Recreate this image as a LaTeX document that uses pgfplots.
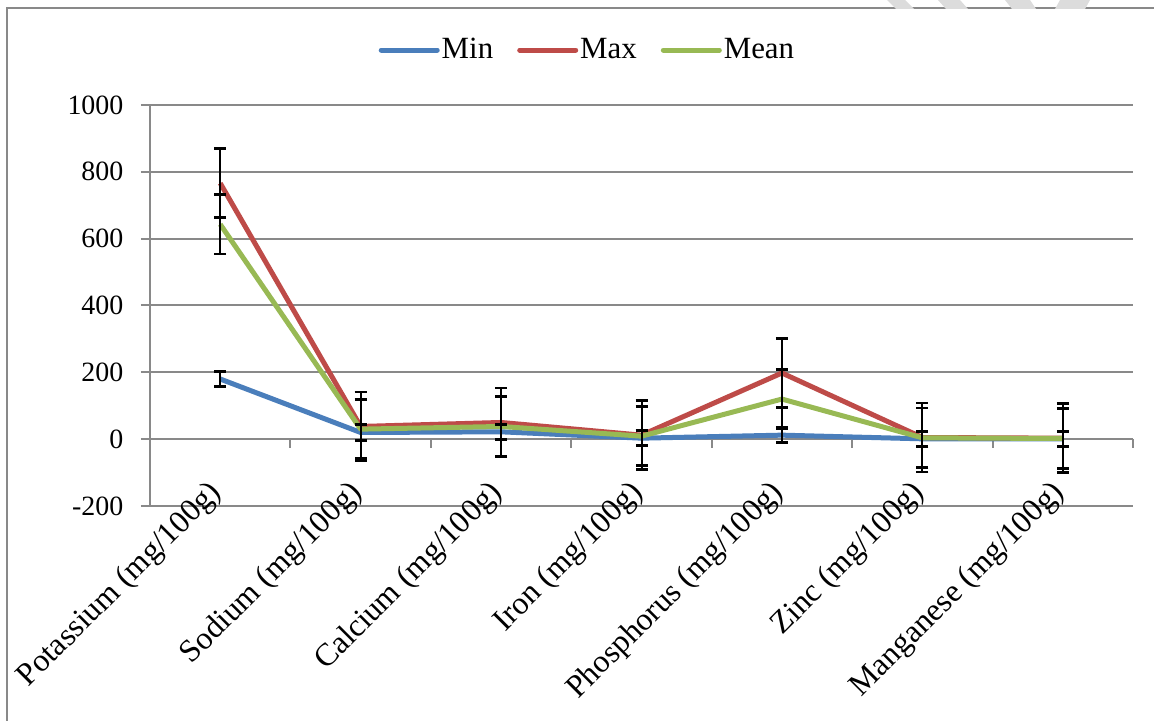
\documentclass[border=0pt]{standalone}
\usepackage{fontspec}
\setmainfont{Liberation Serif}
\usepackage{pgfplots}
\usepackage{pgfplotstable}
\pgfplotsset{compat=1.18}
\definecolor{cmin}{HTML}{4A7EBB}
\definecolor{cmax}{HTML}{BE4B48}
\definecolor{cmean}{HTML}{98B954}
\definecolor{gridgray}{HTML}{898989}
\definecolor{wm}{HTML}{DCDCDC}
\pgfplotstableread{
x min max mean emin emax emean
0 180 766 643 23 103 89
1 20 38 30 23 103 89
2 22 50 38 23 103 89
3 3 12 9 23 103 89
4 12 198 120 23 103 89
5 1 5 4 23 103 89
6 0.5 3 2 23 103 89
}\datatab
\begin{document}
\fontsize{14}{16}\selectfont
\begin{tikzpicture}
\useasboundingbox (0,0) rectangle (577bp,360.5bp);
\draw[gridgray, line width=1bp] (3.5bp,0) -- (3.5bp,356.5bp) -- (577bp,356.5bp);
\fill[wm] (443.5bp,360.5bp) -- (452.5bp,360.5bp) -- (457bp,356bp) -- (448bp,356bp) -- cycle;
\fill[wm] (469bp,360.5bp) -- (480bp,360.5bp) -- (484bp,356bp) -- (473bp,356bp) -- cycle;
\fill[wm] (502.5bp,360.5bp) -- (515bp,360.5bp) -- (518bp,356bp) -- (506bp,356bp) -- cycle;
\fill[wm] (530bp,360.5bp) -- (545bp,360.5bp) -- (542.5bp,356bp) -- (527.5bp,356bp) -- cycle;
\begin{axis}[
  at={(75bp,107.5bp)}, anchor=south west, scale only axis,
  width=491.5bp, height=200.5bp,
  xmin=-0.5, xmax=6.5, ymin=-200, ymax=1000,
  ytick={-200,0,200,400,600,800,1000},
  xtick={0,...,6},
  xticklabels={Potassium (mg/100g),Sodium (mg/100g),Calcium (mg/100g),Iron (mg/100g),Phosphorus (mg/100g),Zinc (mg/100g),Manganese (mg/100g)},
  /pgf/number format/assume math mode=true,
  /pgf/number format/1000 sep={},
  axis lines=left,
  axis line style={gridgray, line width=1bp, -},
  ymajorgrids, grid style={gridgray, line width=1bp},
  xtick style={draw=none},
  ytick style={gridgray, line width=1bp},
  tick align=outside, major tick length=4.5bp,
  yticklabel style={font=\fontsize{14}{16}\selectfont, xshift=-4bp},
  xticklabel style={font=\fontsize{16}{18}\selectfont, rotate=45, anchor=north east, xshift=8.5bp, yshift=18bp, inner sep=0pt},
  legend columns=3,
  legend style={draw=none, fill=none, at={(0.445,1.137)}, anchor=center,
    font=\fontsize{15.5}{17}\selectfont, nodes={inner sep=1bp},
    /tikz/every even column/.append style={column sep=11bp}},
  legend image code/.code={\draw[#1, line width=2.5bp, line cap=round] (0bp,0bp) -- (28bp,0bp);},
  clip=false,
]
\draw[gridgray, line width=1bp] (axis cs:-0.5,0) -- (axis cs:6.5,0);
\pgfplotsinvokeforeach{0.5,1.5,2.5,3.5,4.5,5.5,6.5}{
  \draw[gridgray, line width=1bp] (axis cs:#1,0) -- ++(0pt,-4.5bp);
}
\addplot[cmin, line width=2.5bp, line join=round, mark=none] table[x=x,y=min]{\datatab};
\addlegendentry{Min}
\addplot[cmax, line width=2.5bp, line join=round, mark=none] table[x=x,y=max]{\datatab};
\addlegendentry{Max}
\addplot[cmean, line width=2.5bp, line join=round, mark=none] table[x=x,y=mean]{\datatab};
\addlegendentry{Mean}
\addplot[forget plot, draw=none, mark=none,
  error bars/.cd, y dir=both, y explicit,
  error bar style={draw=black, line width=1bp},
  error mark options={rotate=90, mark size=3bp, line width=1.4bp, draw=black}]
  table[x=x,y=min,y error=emin]{\datatab};
\addplot[forget plot, draw=none, mark=none,
  error bars/.cd, y dir=both, y explicit,
  error bar style={draw=black, line width=1bp},
  error mark options={rotate=90, mark size=3bp, line width=1.4bp, draw=black}]
  table[x=x,y=max,y error=emax]{\datatab};
\addplot[forget plot, draw=none, mark=none,
  error bars/.cd, y dir=both, y explicit,
  error bar style={draw=black, line width=1bp},
  error mark options={rotate=90, mark size=3bp, line width=1.4bp, draw=black}]
  table[x=x,y=mean,y error=emean]{\datatab};
\end{axis}
\end{tikzpicture}
\end{document}
